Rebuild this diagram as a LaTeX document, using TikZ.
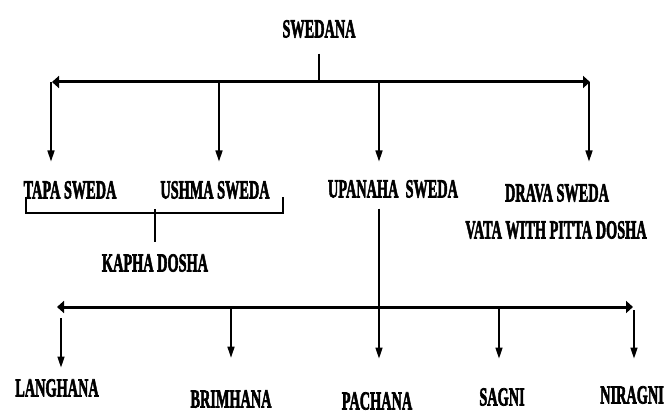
\documentclass[tikz,border=0pt]{standalone}
\usepackage{fontspec}
\setmainfont{Liberation Serif}[BoldFeatures={FakeBold=3}]
\usetikzlibrary{arrows.meta}
\newcommand{\narrow}[1]{\scalebox{0.55}[1]{#1}}

\begin{document}
\begin{tikzpicture}[x=1pt, y=-1pt,
	lbl/.style={inner sep=0pt, font=\fontsize{26}{28}\selectfont\bfseries},
	arr/.style={line width=1.5pt, -{Triangle[length=11pt,width=7pt]}},
	bar/.style={line width=3pt, {Triangle[length=7pt,width=12pt]}-{Triangle[length=7pt,width=12pt]}},
	brk/.style={line width=1.2pt}]
		%%%%% START %%%%%
		\useasboundingbox (0, 0) rectangle (666, 414);
		
		\node[lbl] (swedana) at (319, 29) {\narrow{SWEDANA}};
		
		\node[lbl] (tapa) at (70, 190) {\narrow{TAPA SWEDA}};
		\node[lbl] (ushma) at (215, 190) {\narrow{USHMA SWEDA}};
		\node[lbl] (upanaha) at (393, 189) {\narrow{UPANAHA\ \ SWEDA}};
		\node[lbl] (drava) at (557, 193) {\narrow{DRAVA SWEDA}};
		\node[lbl] (vata) at (556, 230) {\narrow{VATA WITH PITTA DOSHA}};
		\node[lbl] (kapha) at (155, 263) {\narrow{KAPHA DOSHA}};
		
		\node[lbl] (langhana) at (57, 388) {\narrow{LANGHANA}};
		\node[lbl] (brimhana) at (231, 399) {\narrow{BRIMHANA}};
		\node[lbl] (pachana) at (377, 401) {\narrow{PACHANA}};
		\node[lbl] (sagni) at (502, 397) {\narrow{SAGNI}};
		\node[lbl] (niragni) at (632, 395) {\narrow{NIRAGNI}};
		
		% upper bar
		\coordinate (tl) at (52, 82);
		\coordinate (tr) at (590, 82);
		\coordinate (tm) at (319, 82);
		\coordinate (t1) at (51, 82);
		\coordinate (t2) at (219, 82);
		\coordinate (t3) at (379, 82);
		\coordinate (t4) at (589, 82);
		
		\draw[line width=1.5pt, shorten <=15.5pt] (swedana.south -| tm) -- (tm);
		\draw[bar] (tl) -- (tr);
		\draw[arr, shorten >=19.5pt] (t1) -- (t1 |- tapa.north);
		\draw[arr, shorten >=19.5pt] (t2) -- (t2 |- ushma.north);
		\draw[arr, shorten >=18.5pt] (t3) -- (t3 |- upanaha.north);
		\draw[arr, shorten >=22.5pt] (t4) -- (t4 |- drava.north);
		
		% bracket
		\coordinate (bm) at (155, 213);
		\draw[brk] (26, 197) -- (26, 213) -- (283, 213) -- (283, 197);
		\draw[brk] (bm) -- (155, 209);
		\draw[brk, shorten >=12.5pt] (bm) -- (kapha.north);
		
		% lower bar
		\coordinate (bl) at (57, 307);
		\coordinate (br) at (633, 307);
		\coordinate (b1) at (61, 307);
		\coordinate (b2) at (231, 307);
		\coordinate (b3) at (379, 307);
		\coordinate (b4) at (499, 307);
		\coordinate (b5) at (634, 307);
		
		\draw[bar] (bl) -- (br);
		\draw[arr, shorten <=11pt, shorten >=11.5pt] (b1) -- (b1 |- langhana.north);
		\draw[arr, shorten >=32.5pt] (b2) -- (b2 |- brimhana.north);
		\draw[arr, shorten <=10.5pt, shorten >=33.5pt] (upanaha.south -| b3) -- (b3 |- pachana.north);
		\draw[arr, shorten >=29.5pt] (b4) -- (b4 |- sagni.north);
		\draw[arr, shorten <=3pt, shorten >=27.5pt] (b5) -- (b5 |- niragni.north);
		
		%%%%% END %%%%%
\end{tikzpicture}
\end{document}
